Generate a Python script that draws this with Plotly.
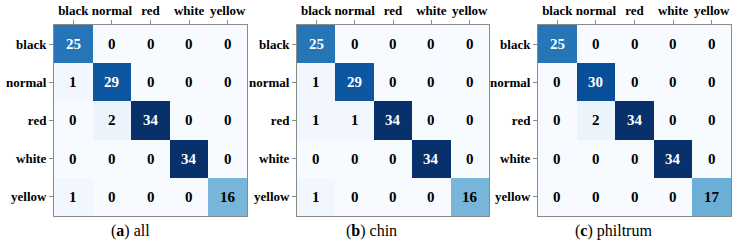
import plotly.graph_objects as go
import plotly.colors as pc

labels = ["black", "normal", "red", "white", "yellow"]

cm_all = [
    [25, 0, 0, 0, 0],
    [1, 29, 0, 0, 0],
    [0, 2, 34, 0, 0],
    [0, 0, 0, 34, 0],
    [1, 0, 0, 0, 16],
]
cm_chin = [
    [25, 0, 0, 0, 0],
    [1, 29, 0, 0, 0],
    [1, 1, 34, 0, 0],
    [0, 0, 0, 34, 0],
    [1, 0, 0, 0, 16],
]
cm_philtrum = [
    [25, 0, 0, 0, 0],
    [0, 30, 0, 0, 0],
    [0, 2, 34, 0, 0],
    [0, 0, 0, 34, 0],
    [0, 0, 0, 0, 17],
]
captions = ["(<b>a</b>) all", "(<b>b</b>) chin", "(<b>c</b>) philtrum"]
matrices = [cm_all, cm_chin, cm_philtrum]

W, H = 737, 246
panels_px = [(54, 247), (297, 489), (538, 731)]
top_px, bot_px = 25, 216
caption_x_px = [130, 371, 613]
caption_y_px = 231

blues = pc.sequential.Blues
n = len(blues)
colorscale = [[i / (n - 1), c] for i, c in enumerate(blues)]

fig = go.Figure()
annotations = []
serif = "Liberation Serif"

for k, (cm, (x0, x1)) in enumerate(zip(matrices, panels_px)):
    xa = "x" if k == 0 else f"x{k+1}"
    ya = "y" if k == 0 else f"y{k+1}"
    vmax = max(max(r) for r in cm)
    fig.add_trace(go.Heatmap(
        z=cm, x=labels, y=labels, xaxis=xa, yaxis=ya,
        colorscale=colorscale, zmin=0, zmax=vmax, showscale=False,
        xgap=0, ygap=0, hoverinfo="skip",
    ))
    thr = vmax / 2
    for i, row in enumerate(cm):
        for j, v in enumerate(row):
            annotations.append(dict(
                x=labels[j], y=labels[i], xref=xa, yref=ya,
                text=f"<b>{v}</b>", showarrow=False,
                font=dict(family=serif, size=15,
                          color="white" if v > thr else "black"),
            ))
    dom_x = [x0 / W, x1 / W]
    dom_y = [1 - bot_px / H, 1 - top_px / H]
    axkey = "xaxis" if k == 0 else f"xaxis{k+1}"
    aykey = "yaxis" if k == 0 else f"yaxis{k+1}"
    fig.update_layout(**{
        axkey: dict(domain=dom_x, anchor=ya, side="top", type="category",
                    tickangle=0,
                    tickfont=dict(family=serif, size=13, color="black", weight="bold"),
                    ticks="outside", ticklen=4, tickcolor="#888",
                    showline=True, mirror=True, linecolor="#8a8a8a", linewidth=1,
                    showgrid=False, zeroline=False, fixedrange=True),
        aykey: dict(domain=dom_y, anchor=xa, type="category", autorange="reversed",
                    tickfont=dict(family=serif, size=13, color="black", weight="bold"),
                    ticks="outside", ticklen=4, tickcolor="#888",
                    showline=True, mirror=True, linecolor="#8a8a8a", linewidth=1,
                    showgrid=False, zeroline=False, fixedrange=True),
    })
    annotations.append(dict(
        x=caption_x_px[k] / W, y=1 - caption_y_px / H, xref="paper", yref="paper",
        text=captions[k], showarrow=False, xanchor="center", yanchor="middle",
        font=dict(family=serif, size=16, color="black"),
    ))

fig.update_layout(
    width=W, height=H, margin=dict(l=0, r=0, t=0, b=0),
    paper_bgcolor="white", plot_bgcolor="white",
    annotations=annotations,
)
fig.write_html("out.html")
